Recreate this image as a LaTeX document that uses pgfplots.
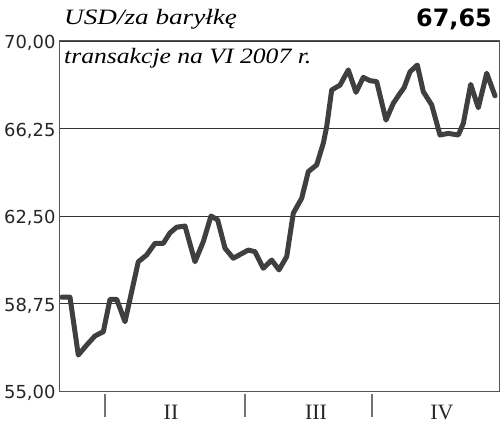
\documentclass[border=0pt]{standalone}
\usepackage{pgfplots}
\pgfplotsset{compat=1.18}
\usepackage{fontspec}
\setmainfont{Liberation Serif}
\newfontfamily\dejavu{DejaVu Sans}
\definecolor{linec}{HTML}{3F3F3F}
\definecolor{framec}{HTML}{555555}
\pgfplotstableread{
x v
61.7 59.02
70 59.02
78.3 56.54
86.7 56.97
95 57.36
103.3 57.54
110 58.93
116.7 58.93
125 57.97
138.3 60.54
146.7 60.83
155 61.33
163.3 61.33
170 61.78
176.7 62.02
185 62.07
195 60.54
203.3 61.40
211 62.50
217.7 62.33
225 61.12
233.3 60.69
241 60.87
248.3 61.04
255 60.97
263.3 60.26
271.7 60.61
279 60.19
286.7 60.76
293.3 62.62
301.7 63.26
308.3 64.40
316.7 64.69
323.3 65.62
326.7 66.33
331.7 67.90
340 68.11
348.3 68.76
356 67.80
363.3 68.44
370 68.30
376.7 68.26
386 66.61
393.3 67.33
400 67.76
404 67.99
410 68.68
417.3 68.97
423.3 67.83
431.7 67.26
440 65.97
448.3 66.04
458.3 65.97
463.3 66.47
470.7 68.14
478.3 67.14
486.7 68.62
495 67.65
}\oil
\begin{document}
\begin{tikzpicture}
\useasboundingbox (-60bp,-35bp) rectangle (440bp,391bp);
\begin{axis}[at={(0,0)}, anchor=south west, scale only axis,
  width=439bp, height=350bp,
  xmin=60, xmax=499, ymin=55, ymax=70,
  axis line style={framec, line width=1bp},
  tick pos=left,
  ytick={55,58.75,62.5,66.25,70},
  yticklabels={{55,00},{58,75},{62,50},{66,25},{70,00}},
  yticklabel style={font=\dejavu\fontsize{18}{18}\selectfont, text=black!85, xshift=22bp, yshift=-2bp},
  ytick style={draw=none},
  ymajorgrids, grid style={black!80, line width=0.8bp},
  xtick={105,245,372}, xticklabels={},
  tick align=outside, major tick length=23bp,
  xtick style={black!55, line width=1.2bp, yshift=-3bp},
  extra x ticks={171,316,442}, extra x tick labels={II,III,IV},
  extra x tick style={major tick length=0pt, xtick style={draw=none},
    xticklabel style={font=\fontsize{22}{22}\selectfont, text=black!85, yshift=-11bp}},
]
\addplot[linec, line width=5bp, line join=round, line cap=round] table[x=x, y=v] {\oil};
\end{axis}
\node[anchor=base west, inner sep=0] at (4bp,366bp) {\scalebox{1.24}[1]{\fontsize{22}{22}\selectfont\itshape USD/za baryłkę}};
\node[anchor=base east, inner sep=0] at (432bp,364bp) {\dejavu\bfseries\fontsize{24}{24}\selectfont 67,65};
\node[anchor=base west, inner sep=0] at (4bp,327bp) {\scalebox{1.17}[1]{\fontsize{22}{22}\selectfont\itshape transakcje na VI 2007 r.}};
\end{tikzpicture}
\end{document}
